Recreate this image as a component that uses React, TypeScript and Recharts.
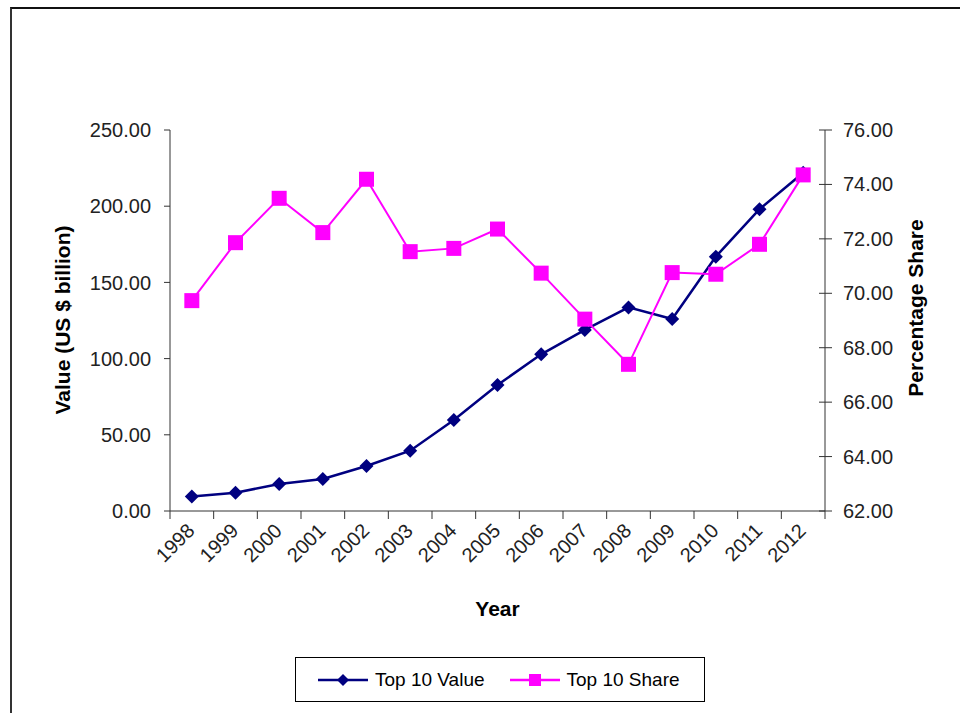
import { Label, Legend, Line, LineChart, XAxis, YAxis } from "recharts";

const years = ["1998", "1999", "2000", "2001", "2002", "2003", "2004", "2005", "2006", "2007", "2008", "2009", "2010", "2011", "2012"];
const topValue = [9.5, 12.0, 17.7, 21.0, 29.5, 39.6, 59.7, 82.7, 102.8, 118.8, 133.6, 126.0, 166.9, 198.0, 222.0];
const topShare = [69.73, 71.86, 73.49, 72.23, 74.19, 71.53, 71.65, 72.36, 70.74, 69.05, 67.39, 70.76, 70.7, 71.8, 74.35];
const valueTicks = [0, 50, 100, 150, 200, 250];
const shareTicks = [62, 64, 66, 68, 70, 72, 74, 76];

const data = years.map((year, i) => ({ year, value: topValue[i], share: topShare[i] }));

const W = 960;
const H = 713;
const LEFT_W = 170;
const RIGHT_W = 135;
const PLOT_W = W - LEFT_W - RIGHT_W;
const band = PLOT_W / years.length;

const font = "'Liberation Sans', Arial, sans-serif";
const axisColor = "#333";
const navy = "#000080";
const magenta = "#FF00FF";

const titleStyle = { fontFamily: font, fontSize: 21, fontWeight: 700, fill: "#000" };

function diamondPath(cx: number, cy: number, r: number) {
  return `M${cx},${cy - r}L${cx + r},${cy}L${cx},${cy + r}L${cx - r},${cy}Z`;
}

function Diamond(props: any) {
  const { cx, cy, index } = props;
  if (cx == null || cy == null) return <g key={`d${index}`} />;
  return <path key={`d${index}`} d={diamondPath(cx, cy, 7)} fill={navy} />;
}

function Square(props: any) {
  const { cx, cy, index } = props;
  if (cx == null || cy == null) return <g key={`s${index}`} />;
  return <rect key={`s${index}`} x={cx - 7.5} y={cy - 7.5} width={15} height={15} fill={magenta} />;
}

function YearTick({ x, y, payload, index }: any) {
  const last = index === years.length - 1;
  return (
    <g>
      <line x1={x - band / 2} x2={x - band / 2} y1={y} y2={y + 8} stroke={axisColor} />
      {last && <line x1={x + band / 2} x2={x + band / 2} y1={y} y2={y + 8} stroke={axisColor} />}
      <text
        x={x + 4}
        y={y + 21}
        transform={`rotate(-45 ${x + 4} ${y + 21})`}
        textAnchor="end"
        fontFamily={font}
        fontSize={20}
        fill="#222"
      >
        {payload.value}
      </text>
    </g>
  );
}

function ShareTick({ x, y, payload }: any) {
  return (
    <g>
      <line x1={x - 6} x2={x + 7} y1={y} y2={y} stroke={axisColor} />
      <text x={x + 18} y={y} dominantBaseline="central" fontFamily={font} fontSize={20} fill="#222">
        {Number(payload.value).toFixed(2)}
      </text>
    </g>
  );
}

function sideTitle(text: string, cx: number, cy: number) {
  return () => (
    <text x={cx} y={cy} transform={`rotate(-90 ${cx} ${cy})`} textAnchor="middle" dominantBaseline="central" style={titleStyle}>
      {text}
    </text>
  );
}

const series = [
  { key: "value", name: "Top 10 Value", color: navy, shape: "diamond" },
  { key: "share", name: "Top 10 Share", color: magenta, shape: "square" },
];

function LegendBox() {
  return (
    <div
      style={{
        boxSizing: "border-box",
        width: "100%",
        height: "100%",
        border: "1px solid #000",
        display: "flex",
        alignItems: "center",
        paddingLeft: 22,
        fontFamily: font,
        fontSize: 19,
        color: "#000",
        whiteSpace: "nowrap",
      }}
    >
      {series.map((s) => (
        <div key={s.key} style={{ display: "flex", alignItems: "center", marginRight: 25 }}>
          <svg width={50} height={16} style={{ marginRight: 7 }}>
            <line x1={0} x2={50} y1={8} y2={8} stroke={s.color} strokeWidth={2.5} />
            {s.shape === "diamond" ? (
              <path d={diamondPath(25, 8, 6)} fill={s.color} />
            ) : (
              <rect x={19} y={2} width={12} height={12} fill={s.color} />
            )}
          </svg>
          <span>{s.name}</span>
        </div>
      ))}
    </div>
  );
}

export default function App() {
  return (
    <div style={{ position: "absolute", left: 0, top: 0, width: W, height: H, background: "#fff", overflow: "hidden" }}>
      <div
        style={{
          position: "absolute",
          left: 10,
          top: 7,
          right: 0,
          bottom: 0,
          borderTop: "2px solid #111",
          borderLeft: "2px solid #333",
        }}
      />
      <LineChart width={W} height={H} data={data} margin={{ top: 130, right: 0, bottom: 0, left: 0 }}>
        <XAxis
          dataKey="year"
          height={H - 130 - 381}
          interval={0}
          padding={{ left: band / 2, right: band / 2 }}
          tickSize={0}
          tickMargin={0}
          tickLine={false}
          tick={<YearTick />}
          stroke={axisColor}
        >
          <Label content={() => <text x={LEFT_W + PLOT_W / 2} y={616} textAnchor="middle" style={titleStyle}>Year</text>} />
        </XAxis>
        <YAxis
          yAxisId="value"
          width={LEFT_W}
          domain={[0, 250]}
          ticks={valueTicks}
          interval={0}
          tickSize={6}
          tickMargin={13}
          tickFormatter={(v: number) => v.toFixed(2)}
          tick={{ fill: "#222", fontSize: 20, fontFamily: font }}
          stroke={axisColor}
        >
          <Label content={sideTitle("Value (US $ billion)", 62, 320)} />
        </YAxis>
        <YAxis
          yAxisId="share"
          orientation="right"
          width={RIGHT_W}
          domain={[62, 76]}
          ticks={shareTicks}
          interval={0}
          tickSize={0}
          tickMargin={0}
          tickLine={false}
          tick={<ShareTick />}
          stroke={axisColor}
        >
          <Label content={sideTitle("Percentage Share", 915, 308)} />
        </YAxis>
        <Legend
          layout="horizontal"
          verticalAlign="middle"
          align="center"
          content={<LegendBox />}
          wrapperStyle={{ left: 295, top: 657, width: 410, height: 45 }}
        />
        <Line
          yAxisId="value"
          dataKey="value"
          name="Top 10 Value"
          stroke={navy}
          strokeWidth={2.5}
          dot={Diamond}
          activeDot={false}
          isAnimationActive={false}
        />
        <Line
          yAxisId="share"
          dataKey="share"
          name="Top 10 Share"
          stroke={magenta}
          strokeWidth={2}
          dot={Square}
          activeDot={false}
          isAnimationActive={false}
        />
      </LineChart>
    </div>
  );
}
